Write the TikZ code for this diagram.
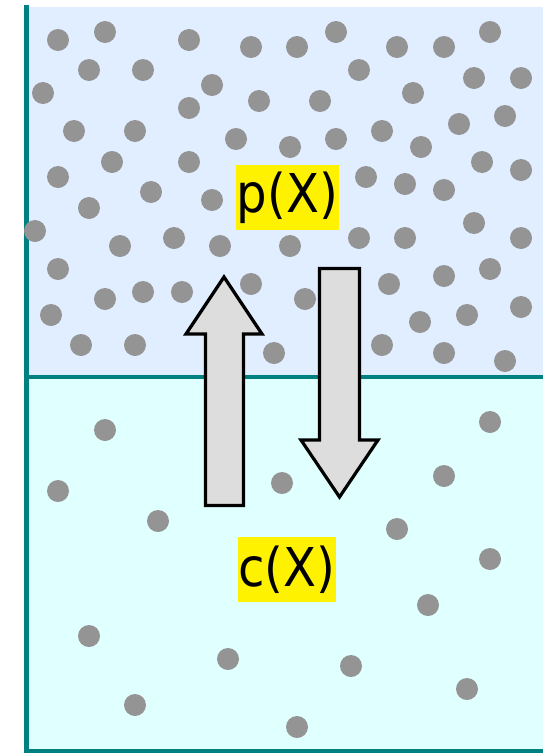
\documentclass[tikz,border=0pt]{standalone}
\usepackage{fontspec}
\newfontfamily\tagfont{DejaVu Sans Condensed}
\definecolor{dotgray}{HTML}{949494}
\definecolor{upperblue}{HTML}{E0EEFF}
\definecolor{lowercyan}{HTML}{E0FFFF}
\definecolor{wallteal}{HTML}{008080}
\definecolor{arrowgray}{HTML}{DDDDDD}

\begin{document}
\begin{tikzpicture}[x=1pt, y=-1pt,
  molecule/.style={fill=dotgray},
  tagbox/.style={fill=yellow, inner sep=0pt, font=\tagfont\fontsize{53.5}{54}\selectfont},
  flux/.style={draw=black, fill=arrowgray, line width=3.2pt, line join=miter}]
\useasboundingbox (0,0) rectangle (543,753);
% the two phases
\fill[upperblue] (26,7) rectangle (543,377);
\fill[lowercyan] (26,377) rectangle (543,750);
% walls and interface
\draw[wallteal, line width=5pt] (26.5,5) -- (26.5,752.5);
\draw[wallteal, line width=4pt] (26,377) -- (543,377);
\draw[wallteal, line width=4pt] (26,750.5) -- (543,750.5);
% molecules in the upper phase
\foreach \p in {(58,40),(105,32),(189,40),(251,47),(297,47),(336,32),(397,47),(444,47),(490,32),
  (89,70),(143,70),(212,85),(359,70),(474,78),(521,78),
  (43,93),(189,108),(259,101),(320,101),(413,93),
  (74,131),(135,131),(236,139),(290,147),(336,139),(382,131),(421,147),(459,124),(505,116),
  (112,162),(189,162),(482,162),(521,170),
  (58,177),(151,192),(212,200),(366,177),(405,184),(444,190),
  (89,208),(474,223),
  (35,231),(174,238),(120,246),(220,246),(290,246),(359,238),(405,238),(521,238),
  (58,269),(490,269),(444,276),(251,284),(389,284),
  (105,299),(143,292),(182,292),(305,299),(51,315),(467,315),(521,307),(420,322),
  (81,345),(135,345),(274,353),(382,345),(444,353),(505,361)}
  \fill[molecule] \p circle (11pt);
% molecules in the lower phase
\foreach \p in {(105,430),(490,422),(58,491),(282,483),(444,476),(158,521),(397,529),
  (490,559),(428,605),(89,636),(228,659),(351,666),(467,689),(135,705),(297,727)}
  \fill[molecule] \p circle (11pt);
% exchange arrows
\draw[flux] (205.5,505.5) -- (205.5,334) -- (186,334) -- (224,277) -- (262,334)
  -- (243.5,334) -- (243.5,505.5) -- cycle;
\draw[flux] (319.5,268.5) -- (319.5,440) -- (301,440) -- (339.5,497) -- (378,440)
  -- (359.5,440) -- (359.5,268.5) -- cycle;
% concentrations
\node[tagbox, minimum width=103pt, minimum height=65pt] (pX) at (287.5,197.5) {p(X)};
\node[tagbox, minimum width=98pt, minimum height=65pt] (cX) at (287,569.5) {c(X)};
\end{tikzpicture}
\end{document}
